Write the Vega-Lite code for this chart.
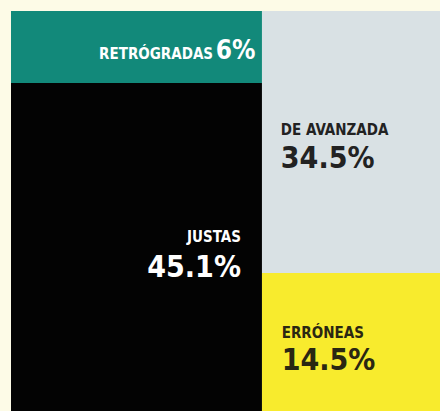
{
  "$schema": "https://vega.github.io/schema/vega-lite/v6.json",
  "width": 429,
  "height": 400,
  "autosize": {"type": "none"},
  "padding": {"left": 11, "top": 11, "right": 0, "bottom": 0},
  "background": "#FDFBE7",
  "config": {"view": {"stroke": null}, "text": {"font": "DejaVu Sans Condensed, Liberation Sans Narrow, Roboto, sans-serif"}},
  "data": {
    "values": [
      {"name": "RETRÓGRADAS", "pct": "6%", "col": "left", "fill": "#12897A", "ink": "#FFFFFF", "x0": 0, "x1": 58.5, "y0": 0, "y1": 18, "nameX": 47.1, "nameY": 12, "pctX": 47.7, "pctY": 12},
      {"name": "JUSTAS", "pct": "45.1%", "col": "left", "fill": "#030303", "ink": "#FFFFFF", "x0": 0, "x1": 58.5, "y0": 18, "y1": 100, "nameX": 53.6, "nameY": 57.8, "pctX": 53.6, "pctY": 66.5},
      {"name": "DE AVANZADA", "pct": "34.5%", "col": "right", "fill": "#D9E1E4", "ink": "#222222", "x0": 58.5, "x1": 100, "y0": 0, "y1": 65.5, "nameX": 62.9, "nameY": 31, "pctX": 62.9, "pctY": 39.3},
      {"name": "ERRÓNEAS", "pct": "14.5%", "col": "right", "fill": "#F8EB2D", "ink": "#2A2712", "x0": 58.5, "x1": 100, "y0": 65.5, "y1": 100, "nameX": 63.1, "nameY": 81.8, "pctX": 63.1, "pctY": 89.8}
    ]
  },
  "layer": [
    {
      "mark": {"type": "rect", "strokeWidth": 0},
      "encoding": {
        "x": {"field": "x0", "type": "quantitative", "scale": {"domain": [0, 100], "nice": false, "zero": false}, "axis": null},
        "x2": {"field": "x1"},
        "y": {"field": "y0", "type": "quantitative", "scale": {"domain": [0, 100], "nice": false, "zero": false, "reverse": true}, "axis": null},
        "y2": {"field": "y1"},
        "fill": {"field": "fill", "type": "nominal", "scale": null, "legend": null}
      }
    },
    {
      "transform": [{"filter": "datum.col == 'left'"}],
      "mark": {"type": "text", "align": "right", "baseline": "alphabetic", "fontWeight": "bold", "fontSize": 15},
      "encoding": {
        "x": {"field": "nameX", "type": "quantitative"},
        "y": {"field": "nameY", "type": "quantitative"},
        "text": {"field": "name"},
        "color": {"field": "ink", "type": "nominal", "scale": null, "legend": null}
      }
    },
    {
      "transform": [{"filter": "datum.col == 'right'"}],
      "mark": {"type": "text", "align": "left", "baseline": "alphabetic", "fontWeight": "bold", "fontSize": 15},
      "encoding": {
        "x": {"field": "nameX", "type": "quantitative"},
        "y": {"field": "nameY", "type": "quantitative"},
        "text": {"field": "name"},
        "color": {"field": "ink", "type": "nominal", "scale": null, "legend": null}
      }
    },
    {
      "transform": [{"filter": "datum.name == 'RETRÓGRADAS'"}],
      "mark": {"type": "text", "align": "left", "baseline": "alphabetic", "fontWeight": "bold", "fontSize": 26},
      "encoding": {
        "x": {"field": "pctX", "type": "quantitative"},
        "y": {"field": "pctY", "type": "quantitative"},
        "text": {"field": "pct"},
        "color": {"field": "ink", "type": "nominal", "scale": null, "legend": null}
      }
    },
    {
      "transform": [{"filter": "datum.name == 'JUSTAS'"}],
      "mark": {"type": "text", "align": "right", "baseline": "alphabetic", "fontWeight": "bold", "fontSize": 30},
      "encoding": {
        "x": {"field": "pctX", "type": "quantitative"},
        "y": {"field": "pctY", "type": "quantitative"},
        "text": {"field": "pct"},
        "color": {"field": "ink", "type": "nominal", "scale": null, "legend": null}
      }
    },
    {
      "transform": [{"filter": "datum.col == 'right'"}],
      "mark": {"type": "text", "align": "left", "baseline": "alphabetic", "fontWeight": "bold", "fontSize": 30},
      "encoding": {
        "x": {"field": "pctX", "type": "quantitative"},
        "y": {"field": "pctY", "type": "quantitative"},
        "text": {"field": "pct"},
        "color": {"field": "ink", "type": "nominal", "scale": null, "legend": null}
      }
    }
  ]
}
